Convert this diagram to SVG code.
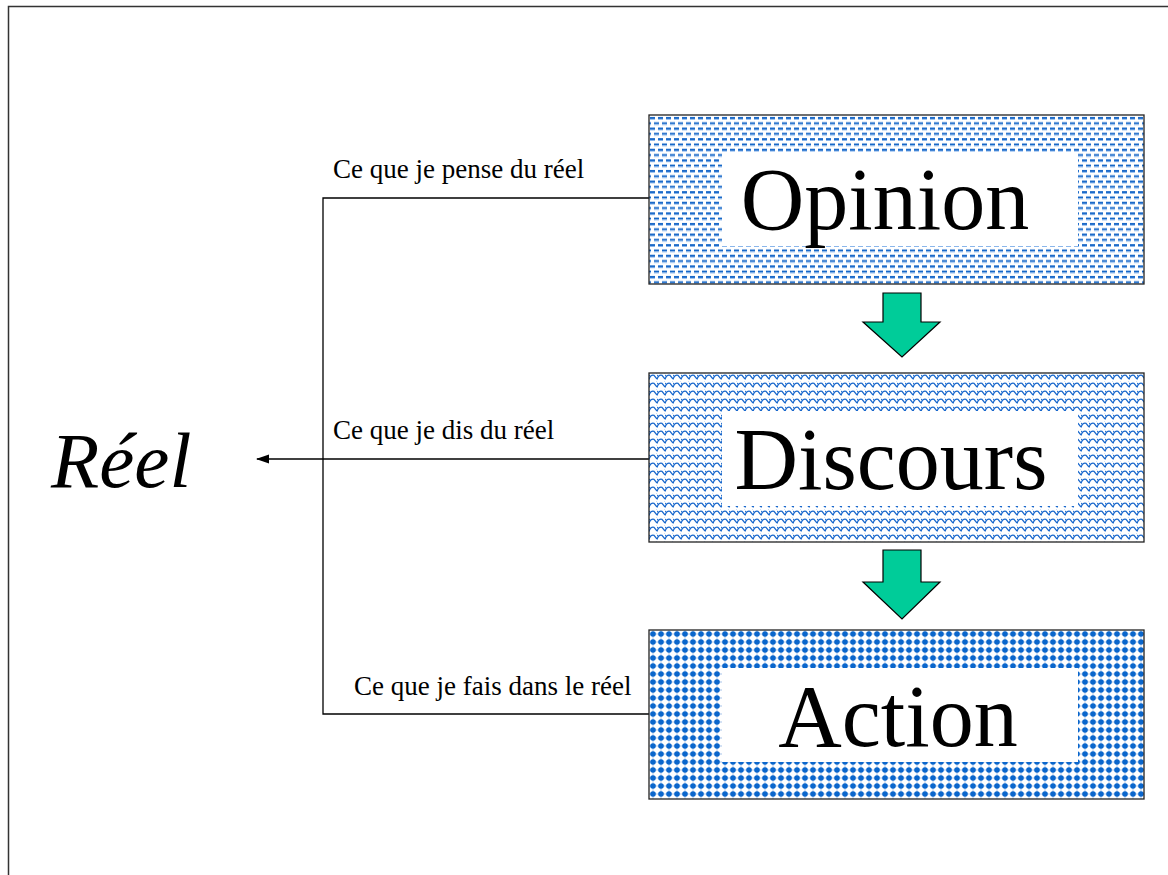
<svg xmlns="http://www.w3.org/2000/svg" width="1168" height="875" viewBox="0 0 1168 875">
<style>
.frame{fill:none;stroke:#333;stroke-width:1.5}
.box{stroke:#222;stroke-width:1.3}
.inner{fill:#fff;stroke:none}
.big{font-family:"Liberation Serif","Times New Roman",serif;font-size:88px;fill:#000;text-anchor:middle}
.lbl{font-family:"Liberation Serif","Times New Roman",serif;font-size:27px;fill:#000}
.reel{font-family:"Liberation Serif","Times New Roman",serif;font-size:79px;font-style:italic;fill:#000}
.conn{fill:none;stroke:#000;stroke-width:1.3}
.garrow{fill:#00cc99;stroke:#000;stroke-width:1.2}
</style>
<defs>
<pattern id="pDash" width="8" height="10.6" patternUnits="userSpaceOnUse" x="649" y="115">
<rect width="8" height="10.6" fill="#fff"/>
<rect x="1" y="2" width="5" height="1.8" fill="#0a5fc4"/>
<rect x="1" y="3.8" width="5" height="0.9" fill="#7fb0ea"/>
<rect x="5" y="7.3" width="5" height="1.8" fill="#0a5fc4"/>
<rect x="-3" y="7.3" width="5" height="1.8" fill="#0a5fc4"/>
<rect x="5" y="9.1" width="5" height="0.9" fill="#7fb0ea"/>
<rect x="-3" y="9.1" width="5" height="0.9" fill="#7fb0ea"/>
</pattern>
<pattern id="pScale" width="8" height="8" patternUnits="userSpaceOnUse" x="649" y="373">
<rect width="8" height="8" fill="#fff"/>
<path d="M0,6.5 C1,3 3,1.8 5,2.3 L8,6" fill="none" stroke="#1666cc" stroke-width="1.2"/>
<path d="M-1,1.5 L0.8,3" fill="none" stroke="#1666cc" stroke-width="1.2"/>
<path d="M7,-1 L8,0" fill="none" stroke="#1666cc" stroke-width="1.2"/>
</pattern>
<pattern id="pDot" width="8" height="8" patternUnits="userSpaceOnUse" x="649" y="630">
<rect width="8" height="8" fill="#fff"/>
<line x1="0" y1="4" x2="8" y2="4" stroke="#7fa9e0" stroke-width="0.7"/>
<line x1="4" y1="0" x2="4" y2="8" stroke="#7fa9e0" stroke-width="0.7"/>
<circle cx="4" cy="4" r="2.8" fill="#0a66cc"/>
</pattern>
<marker id="ah" markerWidth="13" markerHeight="10" refX="12" refY="5" orient="auto" markerUnits="userSpaceOnUse">
<path d="M0,0.5 L13,5 L0,9.5 Z" fill="#000"/>
</marker>
</defs>
<rect width="1168" height="875" fill="#fff"/>
<path class="frame" d="M8.5,875 V6.5 H1168"/>
<g id="connectors">
<path class="conn" d="M649,198 H323 V714 H649"/>
<line class="conn" x1="649" y1="459" x2="257" y2="459" marker-end="url(#ah)"/>
<path class="garrow" d="M883,293 H921 V322 H940 L902,357 L863,322 H883 Z"/>
<path class="garrow" d="M883,550 H921 V582 H940 L902,619 L863,582 H883 Z"/>
</g>
<g id="opinion">
<rect class="box" x="649" y="115" width="495" height="169" fill="url(#pDash)"/>
<rect class="inner" x="722" y="152" width="356" height="94"/>
<text class="big" x="885" y="229">Opinion</text>
</g>
<g id="discours">
<rect class="box" x="649" y="373" width="495" height="169" fill="url(#pScale)"/>
<rect class="inner" x="722" y="411" width="356" height="95"/>
<text class="big" x="891" y="489">Discours</text>
</g>
<g id="action">
<rect class="box" x="649" y="630" width="495" height="169" fill="url(#pDot)" stroke-width="1.8"/>
<rect class="inner" x="722" y="668" width="356" height="94"/>
<text class="big" x="898" y="746">Action</text>
</g>
<g id="reel">
<text class="reel" x="51" y="487">Réel</text>
</g>
<g id="labels">
<text class="lbl" x="333" y="178">Ce que je pense du réel</text>
<text class="lbl" x="333" y="439">Ce que je dis du réel</text>
<text class="lbl" x="354" y="695">Ce que je fais dans le réel</text>
</g>
</svg>
